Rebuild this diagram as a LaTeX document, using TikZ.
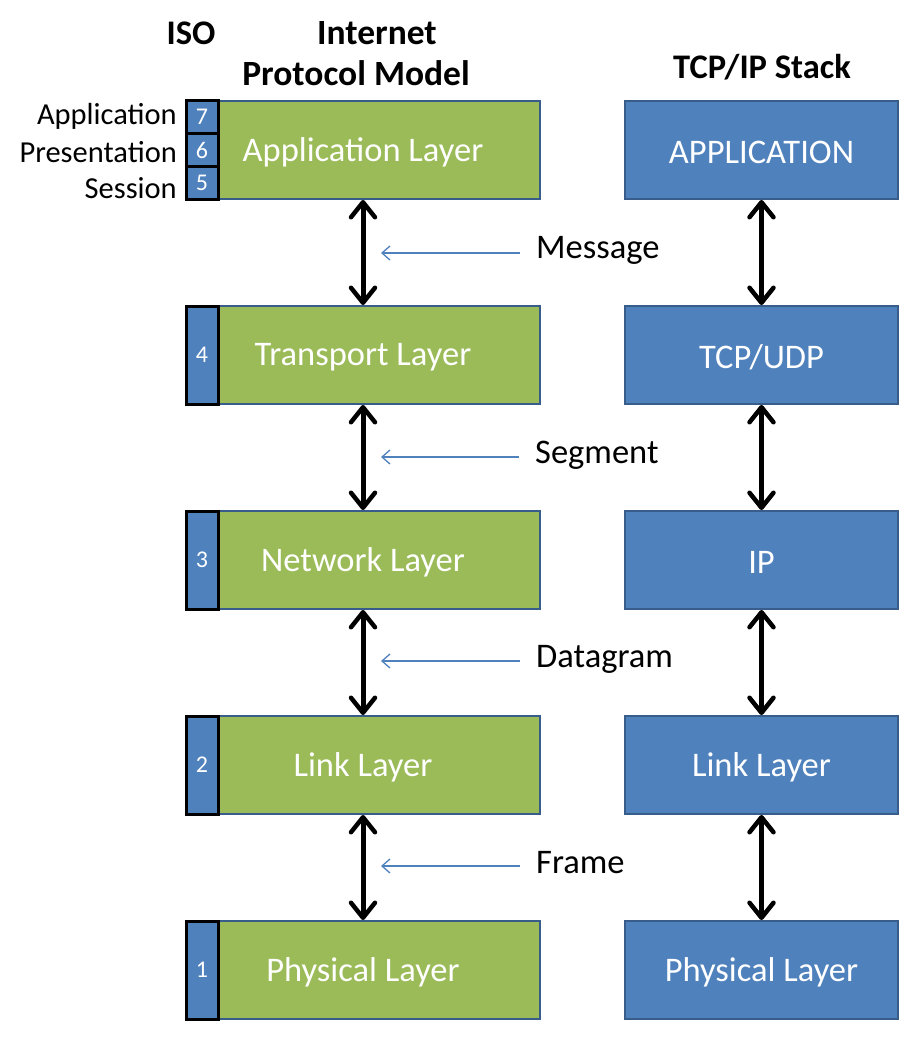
\documentclass[tikz,border=0pt]{standalone}
\usepackage{fontspec}
\setmainfont{Carlito}
\usetikzlibrary{arrows.meta}
\definecolor{gfill}{HTML}{9BBB59}
\definecolor{bfill}{HTML}{4F81BD}
\definecolor{bdraw}{HTML}{385D8A}
\tikzset{
  big/.style={font=\fontsize{34.5}{38}\selectfont},
  layer/.style={draw=bdraw, line width=2pt, minimum height=98pt, text=white,
    big, inner sep=0pt},
  glayer/.style={layer, fill=gfill, minimum width=322pt},
  blayer/.style={layer, fill=bfill, minimum width=273pt},
  ltext/.style={text=white, big, inner sep=0pt},
  numbox/.style={draw=black, line width=3pt, fill=bfill, minimum width=32pt,
    text=white, font=\fontsize{24}{26}\selectfont, inner sep=0pt},
  dbl/.style={line width=5pt, {Straight Barb[length=15pt,width=24pt,line width=4.5pt,round]}-{Straight Barb[length=15pt,width=24pt,line width=4.5pt,round]}},
  pdu/.style={draw=bfill, line width=1.3pt, -{Straight Barb[length=8pt,width=14pt,line width=1.3pt]}},
  pdulabel/.style={anchor=west, big, inner sep=0pt},
  isolabel/.style={anchor=east, font=\fontsize{30.5}{33}\selectfont, inner sep=0pt},
  head/.style={font=\fontsize{34.5}{38}\selectfont\bfseries, inner sep=0pt}
}
\begin{document}
\begin{tikzpicture}[x=1pt,y=-1pt]
\useasboundingbox[fill=white] (0,0) rectangle (900,1040);
% headers
\node[head] (hiso) at (191,33) {ISO};
\node[head, font=\fontsize{35.5}{38}\selectfont\bfseries] (hint) at (377,33) {Internet};
\node[head, font=\fontsize{35.5}{38}\selectfont\bfseries] (hpm) at (356,73) {Protocol Model};
\node[head] (htcp) at (762,67) {TCP/IP Stack};
% green layers
\node[glayer] (g1) at (379,150) {};
\node[glayer] (g2) at (379,355) {};
\node[glayer] (g3) at (379,560) {};
\node[glayer] (g4) at (379,765) {};
\node[glayer] (g5) at (379,970) {};
% number boxes
\node[numbox, minimum height=32.7pt] (n7) at (202,117.3) {7};
\node[numbox, minimum height=32.7pt] (n6) at (202,150) {6};
\node[numbox, minimum height=32.7pt] (n5) at (202,182.7) {5};
\node[numbox, minimum height=98pt] (n4) at (202,355) {4};
\node[numbox, minimum height=98pt] (n3) at (202,560) {3};
\node[numbox, minimum height=98pt] (n2) at (202,765) {2};
\node[numbox, minimum height=98pt] (n1) at (202,970) {1};
% layer texts
\node[ltext] (t1) at (363,152) {Application Layer};
\node[ltext] (t2) at (363,357) {Transport Layer};
\node[ltext] (t3) at (363,562) {Network Layer};
\node[ltext] (t4) at (363,767) {Link Layer};
\node[ltext] (t5) at (363,972) {Physical Layer};
% iso labels
\node[isolabel] (la) at (177,116) {Application};
\node[isolabel] (lp) at (177,152) {Presentation};
\node[isolabel] (ls) at (177,188) {Session};
% blue layers
\node[blayer] (b1) at (761.5,150) {};
\node[blayer] (b2) at (761.5,355) {};
\node[blayer] (b3) at (761.5,560) {};
\node[blayer] (b4) at (761.5,765) {};
\node[blayer] (b5) at (761.5,970) {};
\node[ltext] (u1) at (761.5,152) {APPLICATION};
\node[ltext] (u2) at (761.5,357) {TCP/UDP};
\node[ltext] (u3) at (761.5,562) {IP};
\node[ltext] (u4) at (761.5,767) {Link Layer};
\node[ltext] (u5) at (761.5,972) {Physical Layer};
% arrows
\coordinate (ax) at (363,0);
\draw[dbl] (g1.south -| ax) -- (g2.north -| ax);
\draw[dbl] (g2.south -| ax) -- (g3.north -| ax);
\draw[dbl] (g3.south -| ax) -- (g4.north -| ax);
\draw[dbl] (g4.south -| ax) -- (g5.north -| ax);
\draw[dbl] (b1.south) -- (b2.north);
\draw[dbl] (b2.south) -- (b3.north);
\draw[dbl] (b3.south) -- (b4.north);
\draw[dbl] (b4.south) -- (b5.north);
% pdu labels
\node[pdulabel] (m1) at (536,250) {Message};
\node[pdulabel] (m2) at (535,455) {Segment};
\node[pdulabel] (m3) at (536,659) {Datagram};
\node[pdulabel] (m4) at (536,863) {Frame};
\coordinate (e1) at (381,253);
\coordinate (e2) at (381,457);
\coordinate (e3) at (381,661);
\coordinate (e4) at (381,866);
\draw[pdu] (m1.west |- e1) ++(-16,0) coordinate (s1) -- (e1);
\draw[pdu] (m2.west |- e2) ++(-16,0) coordinate (s2) -- (e2);
\draw[pdu] (m3.west |- e3) ++(-16,0) coordinate (s3) -- (e3);
\draw[pdu] (m4.west |- e4) ++(-16,0) coordinate (s4) -- (e4);
\end{tikzpicture}
\end{document}
